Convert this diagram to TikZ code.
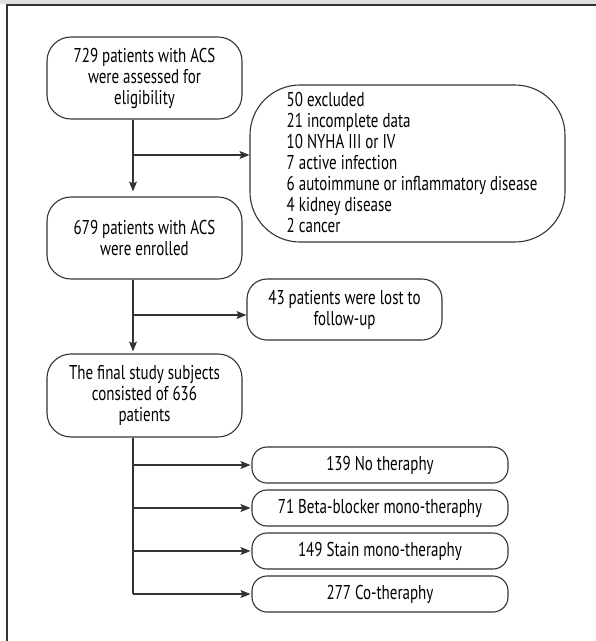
\documentclass[tikz,border=0pt]{standalone}
\usepackage{fontspec}
\setmainfont{PT Sans}[FakeStretch=0.75]
\usetikzlibrary{arrows.meta,positioning}
\definecolor{ln}{HTML}{333333}
\newcommand{\reffont}{\fontsize{20}{21}\selectfont}
\tikzset{
  box/.style={draw=ln, line width=1.1pt, rounded corners=24pt, inner sep=0pt,
    minimum width=195pt, minimum height=82pt, align=center,
    font=\reffont},
  pill/.style={draw=ln, line width=1.1pt, rounded corners=15pt, inner sep=0pt,
    minimum width=256pt, minimum height=36pt, align=center,
    font=\reffont},
  arr/.style={draw=ln, line width=1.1pt, -{Stealth[length=10pt,width=8pt,inset=2pt]}},
  plain/.style={draw=ln, line width=1.1pt}
}
\begin{document}
\begin{tikzpicture}[x=1pt,y=-1pt]
\useasboundingbox (0,0) rectangle (596,641);
\fill[black!12] (0,0) rectangle (596,4);
\draw[ln, line width=1.2pt] (596,5) -- (7,5) -- (7,641);

\node[box] (b1) at (144.5,78) {729 patients with ACS\\were assessed for\\eligibility};
\node[box, minimum width=315pt, minimum height=157pt, rounded corners=50pt] (excl) at (407.5,163.5) {};
\node[anchor=west, align=left, inner sep=0pt, font=\reffont] (excltext) at ([xshift=37pt,yshift=1pt]excl.west)
  {50 excluded\\21 incomplete data\\10 NYHA III or IV\\7 active infection\\6 autoimmune or inflammatory disease\\4 kidney disease\\2 cancer};
\node[box] (b2) at (144.5,238) {679 patients with ACS\\were enrolled};
\node[box, minimum height=61pt, rounded corners=20pt] (lost) at (344.5,309.5) {43 patients were lost to\\follow-up};
\node[box, minimum height=83pt] (b3) at (144.5,395.5) {The final study subjects\\consisted of 636\\patients};

\node[pill] (t1) at (380,465) {139 No theraphy};
\node[pill] (t2) at (380,508) {71 Beta-blocker mono-theraphy};
\node[pill] (t3) at (380,551) {149 Stain mono-theraphy};
\node[pill] (t4) at (380,594) {277 Co-theraphy};

% main trunk
\coordinate (s1) at (133,0 |- b1.south);
\coordinate (j1) at (133,155);
\draw[arr, shorten >=5pt] (s1) -- (s1 |- b2.north);
\draw[arr] (j1) -- (j1 -| excl.west);

\coordinate (s2) at (133,0 |- b2.south);
\coordinate (j2) at (133,315);
\draw[arr, shorten >=2pt] (s2) -- (s2 |- b3.north);
\draw[arr] (j2) -- (j2 -| lost.west);

\coordinate (s3) at (133,0 |- b3.south);
\coordinate (e3) at (133,0 |- t4.west);
\draw[plain] (s3) -- (e3);
\draw[arr, shorten >=1pt] (s3 |- t1.west) -- (t1.west);
\draw[arr, shorten >=1pt] (s3 |- t2.west) -- (t2.west);
\draw[arr, shorten >=1pt] (s3 |- t3.west) -- (t3.west);
\draw[arr, shorten >=1pt] (e3) -- (t4.west);
\end{tikzpicture}
\end{document}
